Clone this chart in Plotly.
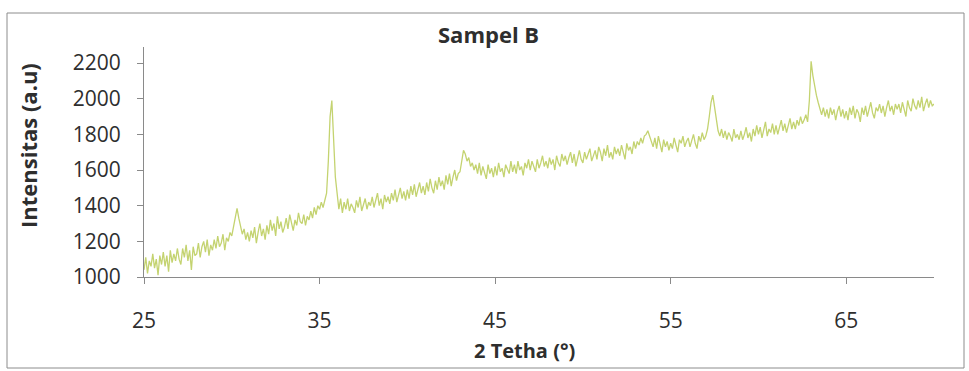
import plotly.graph_objects as go

two_theta_start = 25.0
two_theta_step = 0.1
intensity = [
    1040, 1110, 1020, 1090, 1060, 1130, 1050, 1100, 1010, 1120,   # 25
    1070, 1140, 1060, 1120, 1030, 1150, 1080, 1130, 1090, 1160,   # 26
    1100, 1070, 1160, 1110, 1180, 1090, 1150, 1040, 1170, 1120,   # 27
    1130, 1190, 1110, 1170, 1200, 1140, 1210, 1120, 1180, 1150,   # 28
    1210, 1160, 1230, 1170, 1190, 1240, 1150, 1220, 1200, 1250,   # 29
    1230, 1290, 1350, 1385, 1330, 1280, 1240, 1270, 1210, 1250,   # 30
    1200, 1260, 1220, 1280, 1190, 1250, 1300, 1230, 1270, 1210,   # 31
    1290, 1240, 1320, 1260, 1300, 1230, 1340, 1270, 1310, 1250,   # 32
    1280, 1330, 1270, 1350, 1300, 1260, 1320, 1290, 1360, 1310,   # 33
    1300, 1350, 1290, 1340, 1320, 1370, 1330, 1390, 1350, 1400,   # 34
    1380, 1420, 1390, 1440, 1470, 1650, 1900, 1990, 1780, 1560,   # 35
    1470, 1380, 1440, 1360, 1420, 1380, 1440, 1370, 1410, 1390,   # 36
    1360, 1430, 1390, 1450, 1370, 1410, 1440, 1380, 1420, 1400,   # 37
    1450, 1390, 1430, 1470, 1400, 1440, 1380, 1460, 1420, 1450,   # 38
    1410, 1470, 1430, 1490, 1420, 1460, 1500, 1440, 1480, 1430,   # 39
    1490, 1440, 1510, 1460, 1520, 1450, 1490, 1530, 1470, 1510,   # 40
    1460, 1530, 1480, 1550, 1500, 1470, 1540, 1490, 1560, 1510,   # 41
    1540, 1490, 1570, 1520, 1580, 1510, 1560, 1600, 1540, 1580,   # 42
    1590, 1650, 1710, 1690, 1650, 1670, 1620, 1640, 1600, 1630,   # 43
    1580, 1640, 1570, 1620, 1590, 1550, 1630, 1580, 1610, 1560,   # 44
    1620, 1570, 1640, 1590, 1610, 1560, 1630, 1600, 1580, 1650,   # 45
    1590, 1630, 1580, 1650, 1600, 1620, 1570, 1640, 1610, 1660,   # 46
    1600, 1650, 1620, 1590, 1660, 1610, 1640, 1680, 1620, 1650,   # 47
    1610, 1670, 1630, 1660, 1600, 1680, 1640, 1620, 1690, 1650,   # 48
    1680, 1630, 1670, 1700, 1640, 1690, 1620, 1670, 1710, 1660,   # 49
    1640, 1700, 1660, 1690, 1720, 1650, 1680, 1710, 1660, 1730,   # 50
    1700, 1650, 1720, 1680, 1740, 1670, 1700, 1660, 1730, 1690,   # 51
    1720, 1680, 1740, 1700, 1660, 1750, 1710, 1730, 1690, 1760,   # 52
    1720, 1760, 1740, 1780, 1750, 1790, 1800, 1820, 1790, 1760,   # 53
    1730, 1780, 1720, 1790, 1740, 1700, 1770, 1730, 1760, 1710,   # 54
    1750, 1720, 1780, 1740, 1700, 1770, 1750, 1790, 1730, 1760,   # 55
    1780, 1730, 1770, 1800, 1750, 1720, 1790, 1760, 1810, 1770,   # 56
    1790, 1830, 1900, 1980, 2020, 1950, 1870, 1820, 1790, 1830,   # 57
    1780, 1820, 1770, 1810, 1790, 1760, 1830, 1780, 1800, 1770,   # 58
    1820, 1770, 1800, 1840, 1780, 1810, 1760, 1830, 1790, 1850,   # 59
    1800, 1840, 1780, 1820, 1870, 1790, 1830, 1810, 1860, 1800,   # 60
    1850, 1800, 1840, 1880, 1820, 1860, 1810, 1850, 1890, 1830,   # 61
    1870, 1830, 1880, 1850, 1900, 1860, 1880, 1910, 1870, 1990,   # 62
    2210, 2130, 2070, 2020, 1980, 1940, 1910, 1950, 1900, 1940,   # 63
    1890, 1950, 1910, 1940, 1880, 1930, 1960, 1900, 1940, 1890,   # 64
    1930, 1880, 1950, 1910, 1960, 1890, 1940, 1920, 1870, 1950,   # 65
    1910, 1960, 1900, 1940, 1980, 1920, 1890, 1950, 1930, 1970,   # 66
    1920, 1960, 1900, 1950, 1990, 1930, 1960, 1910, 1970, 1940,   # 67
    1970, 1920, 1980, 1940, 1900, 1990, 1950, 1930, 2000, 1960,   # 68
    1940, 1990, 1950, 2010, 1930, 1970, 2000, 1950, 1990, 1960,   # 69
    1970,                                                         # 70
]
two_theta = [round(two_theta_start + i * two_theta_step, 2) for i in range(len(intensity))]

x_ticks = [25, 35, 45, 55, 65]
y_ticks = [1000, 1200, 1400, 1600, 1800, 2000, 2200]
title_text = "Sampel B"
x_title = "2 Tetha (°)"
y_title = "Intensitas (a.u)"

axis_grey = "#8a8a8a"
text_col = "#2e2e2e"
font_family = "Open Sans, Lato, sans-serif"

fig = go.Figure()
fig.add_trace(go.Scatter(
    x=two_theta, y=intensity, mode="lines",
    line=dict(color="rgb(196,211,112)", width=1.3),
    showlegend=False, hoverinfo="skip",
))

fig.update_layout(
    width=969, height=371,
    margin=dict(l=144, r=35, t=47, b=94),
    paper_bgcolor="white", plot_bgcolor="white",
    font=dict(family=font_family, color=text_col, size=21),
    xaxis=dict(
        range=[25, 70], tickvals=x_ticks, ticktext=[str(v) for v in x_ticks],
        showline=True, linecolor=axis_grey, linewidth=1,
        ticks="outside", ticklen=6, tickcolor=axis_grey,
        showgrid=False, zeroline=False, ticklabelstandoff=19,
        tickfont=dict(size=21, color=text_col),
    ),
    yaxis=dict(
        range=[1000, 2290], tickvals=y_ticks, ticktext=[str(v) for v in y_ticks],
        showline=True, linecolor=axis_grey, linewidth=1,
        ticks="outside", ticklen=6, tickcolor=axis_grey,
        showgrid=False, zeroline=False, ticklabelstandoff=12,
        tickfont=dict(size=21, color=text_col),
    ),
    shapes=[dict(
        type="rect", xref="paper", yref="paper",
        x0=(7 - 144) / 790, x1=(964 - 144) / 790,
        y0=(277 - 368) / 230, y1=(277 - 13) / 230,
        line=dict(color="#8c8c8c", width=1), fillcolor="rgba(0,0,0,0)", layer="below",
    )],
    annotations=[
        dict(text="<b>" + title_text + "</b>", xref="paper", yref="paper",
             x=(488 - 144) / 790, y=(277 - 34) / 230, showarrow=False,
             xanchor="center", yanchor="middle", font=dict(size=22, color=text_col)),
        dict(text="<b>" + x_title + "</b>", xref="paper", yref="paper",
             x=(524 - 144) / 790, y=(277 - 350) / 230, showarrow=False,
             xanchor="center", yanchor="middle", font=dict(size=20, color=text_col)),
        dict(text="<b>" + y_title + "</b>", xref="paper", yref="paper",
             x=(28 - 144) / 790, y=(277 - 146) / 230, showarrow=False, textangle=-90,
             xanchor="center", yanchor="middle", font=dict(size=22, color=text_col)),
    ],
)

fig.write_html("out.html")
